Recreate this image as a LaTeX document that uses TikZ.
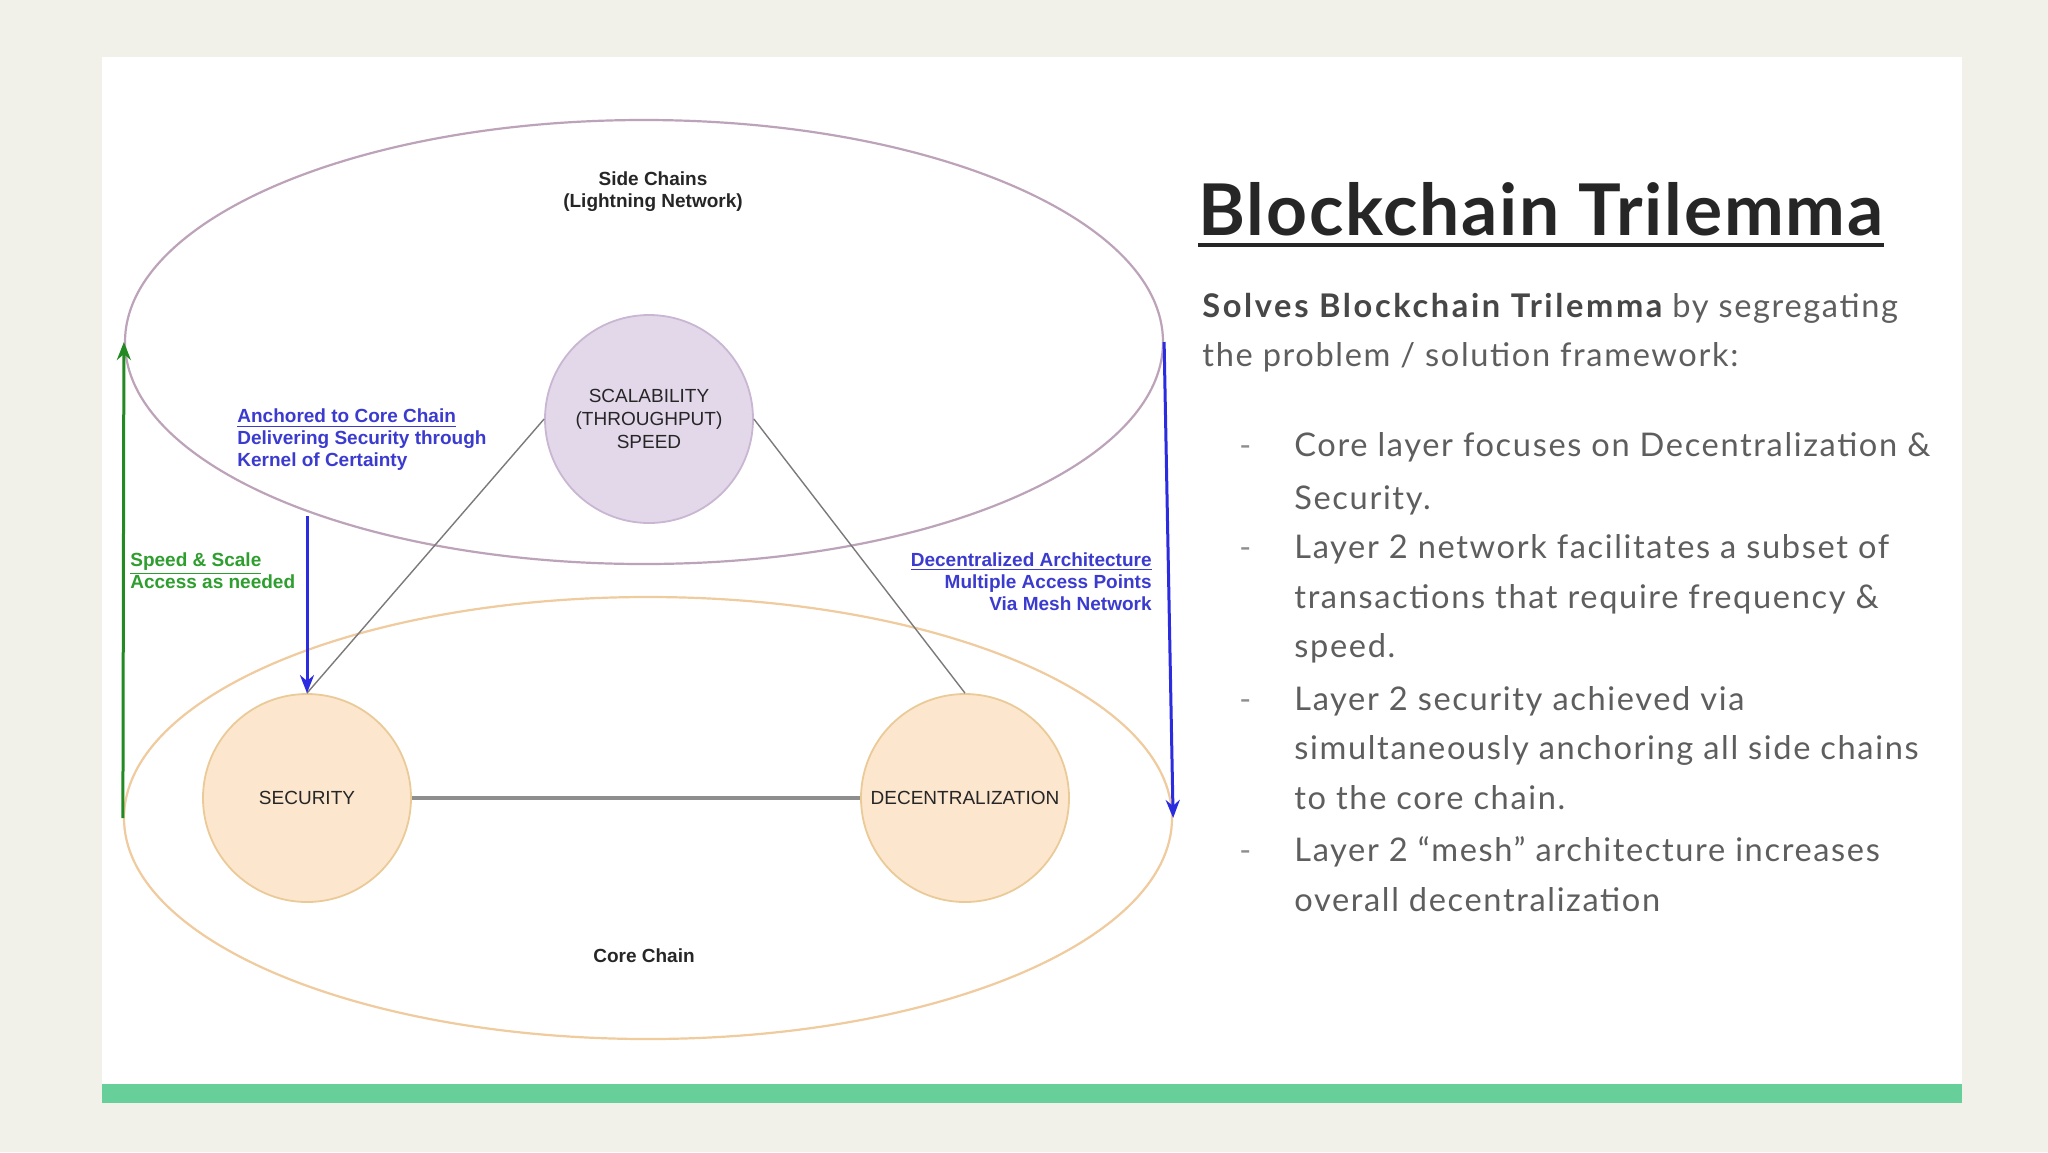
\documentclass[tikz,border=0pt]{standalone}
\usepackage{fontspec}
\setmainfont{Lato}
\newfontfamily\diag{Liberation Sans}
\usetikzlibrary{arrows.meta,shapes.geometric}
\definecolor{pagebg}{HTML}{F1F0E9}
\definecolor{barc}{HTML}{66CF9A}
\definecolor{sidec}{HTML}{BDA3B9}
\definecolor{corec}{HTML}{EFCB9E}
\definecolor{scalfill}{HTML}{E3D8EA}
\definecolor{scaldraw}{HTML}{C9B6D2}
\definecolor{orfill}{HTML}{FCE6CE}
\definecolor{ordraw}{HTML}{EACB98}
\definecolor{linec}{HTML}{7A7A7A}
\definecolor{bluec}{HTML}{2B2BE0}
\definecolor{bluetext}{HTML}{3B3BCF}
\definecolor{greenc}{HTML}{238A23}
\definecolor{greentext}{HTML}{2E9E2E}
\definecolor{titlec}{HTML}{262626}
\definecolor{bodyc}{HTML}{5E5E5E}
\definecolor{boldc}{HTML}{474747}
\tikzset{
  chainell/.style={ellipse, draw, line width=1.1pt, inner sep=0pt},
  trinode/.style={circle, minimum size=104pt, inner sep=0pt, line width=0.9pt, font=\diag\fontsize{9.5}{11.5}\selectfont, text=black!85, align=center},
  conn/.style={draw=linec, line width=0.7pt},
  hconn/.style={draw=linec!85, line width=1.6pt},
  bluearr/.style={draw=bluec, line width=1.5pt, -{Stealth[length=9pt,width=7pt]}},
  greenarr/.style={draw=greenc, line width=1.5pt, -{Stealth[length=9pt,width=7pt]}},
  dlabel/.style={font=\diag\bfseries\fontsize{9.5}{11}\selectfont, inner sep=0pt},
  bodyline/.style={anchor=base west, inner sep=0pt, text=bodyc, font=\fontsize{16.3}{19}\selectfont\addfontfeatures{LetterSpace=5}},
  dashmark/.style={anchor=base west, inner sep=0pt, text=bodyc!70, font=\fontsize{16}{19}\selectfont}
}
\begin{document}
\begin{tikzpicture}[x=0.5pt,y=-0.5pt]
\fill[pagebg] (0,0) rectangle (2048,1152);
\useasboundingbox (0,0) rectangle (2048,1152);
\fill[white] (102,57) rectangle (1962,1103);
\fill[barc] (102,1084) rectangle (1962,1103);

% ellipses
\node[chainell, draw=sidec, minimum width=519pt, minimum height=222pt] (side) at (644,342) {};
\node[chainell, draw=corec, minimum width=524pt, minimum height=221pt] (core) at (648,818) {};

% trilemma circles
\node[trinode, fill=scalfill, draw=scaldraw] (scal) at (649,419) {SCALABILITY\\(THROUGHPUT)\\SPEED};
\node[trinode, fill=orfill, draw=ordraw] (sec) at (307,798) {SECURITY};
\node[trinode, fill=orfill, draw=ordraw] (dec) at (965,798) {DECENTRALIZATION};

\draw[conn] (scal.west) -- (sec.north);
\draw[conn] (scal.east) -- (dec.north);
\draw[hconn] (sec.east) -- (dec.west);

% arrows
\coordinate (anc) at (307,516);
\draw[bluearr] (anc) -- (sec.north);
\draw[greenarr] (core.west) -- (side.west);
\draw[bluearr] (side.east) -- (core.east);

% labels
\node[dlabel, text=black!85, align=center] (sidelbl) at (653,192) {Side Chains\\(Lightning Network)};
\node[dlabel, text=black!85] (corelbl) at (644,956) {Core Chain};
\node[dlabel, text=bluetext, anchor=west, align=left] (anclbl) at (237,440) {\underline{Anchored to Core Chain}\\Delivering Security through\\Kernel of Certainty};
\node[dlabel, text=greentext, anchor=west, align=left] (speedlbl) at (130,571) {\underline{Speed \& Scale}\\Access as needed};
\node[dlabel, text=bluetext, anchor=east, align=right] (declbl) at (1152,582) {\underline{Decentralized Architecture}\\Multiple Access Points\\Via Mesh Network};

% right text
\node[anchor=base west, inner sep=0pt, text=titlec, font=\bfseries\fontsize{35.7}{40}\selectfont\addfontfeatures{LetterSpace=2.5}] (title) at (1198,235) {Blockchain Trilemma};
\draw[titlec, line width=2.2pt] ([yshift=-5pt]title.base west) -- ([yshift=-5pt]title.base east);

\node[bodyline] (p1) at (1202,317) {{\color{boldc}\bfseries\addfontfeatures{LetterSpace=8}Solves Blockchain Trilemma} by segregating};
\node[bodyline] (p2) at (1202,366) {the problem / solution framework:};

\node[dashmark] (d1) at (1239,456) {-};
\node[bodyline] (b1a) at (1294,456) {Core layer focuses on Decentralization \&};
\node[bodyline] (b1b) at (1294,509) {Security.};
\node[dashmark] (d2) at (1239,558) {-};
\node[bodyline] (b2a) at (1294,558) {Layer 2 network facilitates a subset of};
\node[bodyline] (b2b) at (1294,608) {transactions that require frequency \&};
\node[bodyline] (b2c) at (1294,657) {speed.};
\node[dashmark] (d3) at (1239,710) {-};
\node[bodyline] (b3a) at (1294,710) {Layer 2 security achieved via};
\node[bodyline] (b3b) at (1294,759) {simultaneously anchoring all side chains};
\node[bodyline] (b3c) at (1294,809) {to the core chain.};
\node[dashmark] (d4) at (1239,861) {-};
\node[bodyline] (b4a) at (1294,861) {Layer 2 “mesh” architecture increases};
\node[bodyline] (b4b) at (1294,911) {overall decentralization};
\end{tikzpicture}
\end{document}
